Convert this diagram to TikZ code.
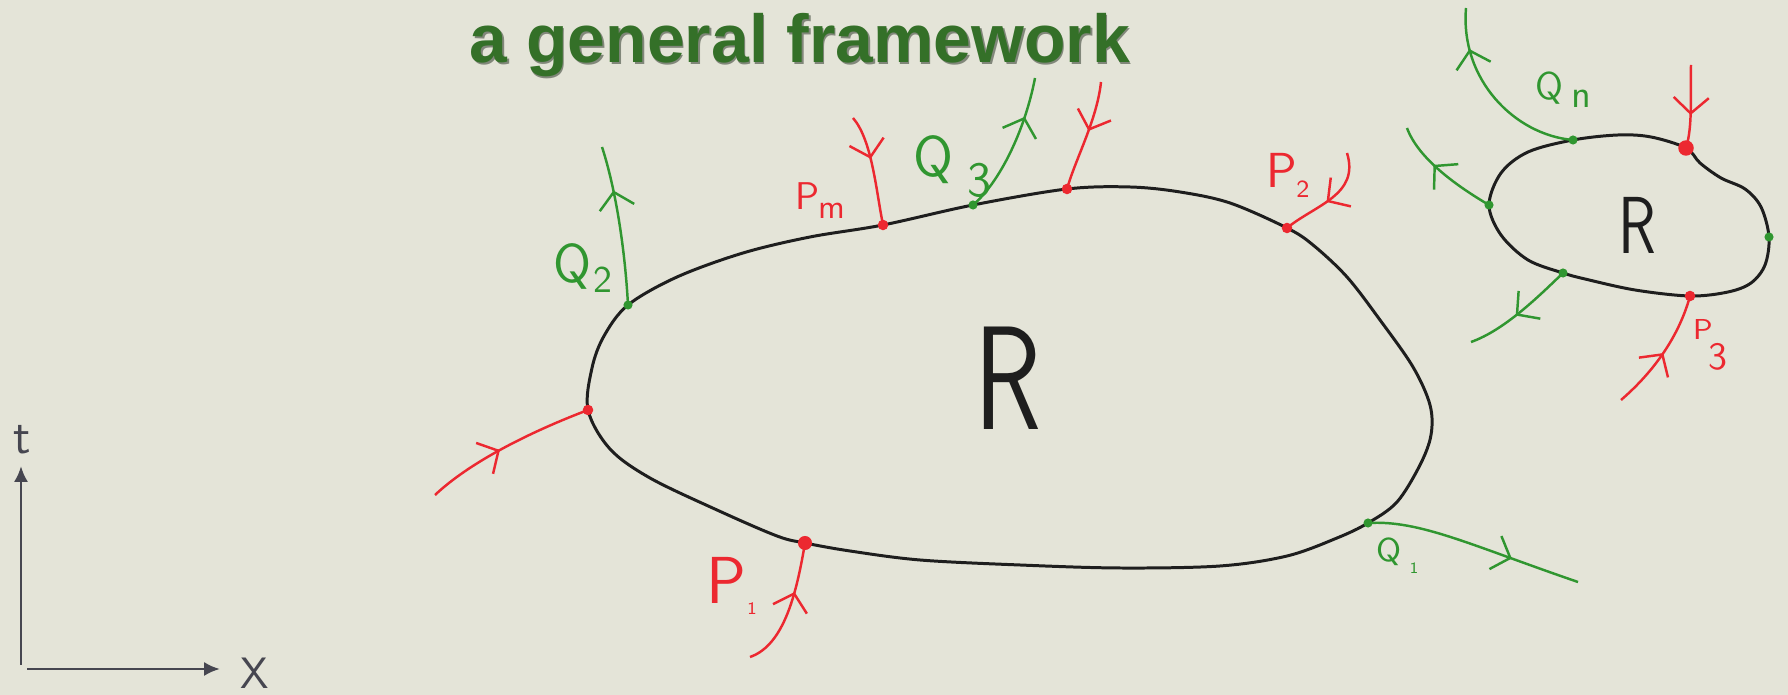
\documentclass[tikz,border=0pt]{standalone}
\usepackage{fontspec}
\newfontfamily\titlefont{Liberation Sans}
\usetikzlibrary{arrows.meta,decorations.markings}
\definecolor{bg}{RGB}{228,228,216}
\definecolor{pen}{RGB}{30,30,30}
\definecolor{rpen}{RGB}{236,40,48}
\definecolor{gpen}{RGB}{48,150,48}
\definecolor{tgreen}{RGB}{52,112,40}
\definecolor{axiscol}{RGB}{70,70,80}
\begin{document}
\begin{tikzpicture}[x=0.01cm,y=-0.01cm,
  blob/.style={draw=pen, line width=0.85pt},
  redline/.style={draw=rpen, line width=0.7pt},
  greenline/.style={draw=gpen, line width=0.7pt},
  midarr/.style={postaction={decorate}, decoration={markings, mark=at position #1 with {\arrow{Straight Barb[length=4.5pt,width=10pt,line width=0.7pt]}}}},
  axisline/.style={draw=axiscol, line width=0.85pt, -{Latex[length=4.5pt,width=4pt]}},
  lbl/.style={inner sep=0pt, font=\sffamily},
  titlestyle/.style={inner sep=0pt, anchor=base, font=\titlefont\bfseries\fontsize{19.3}{23}\selectfont}
]
\fill[bg] (0,0) rectangle (1788,695);
\useasboundingbox (0,0) rectangle (1788,695);

% title
\node[titlestyle, text=black!80!tgreen, opacity=0.45] (titleshadow) at (801.5,64.5) {a general framework};
\node[titlestyle, text=tgreen] (title) at (800,63) {a general framework};

% axes
\coordinate (O1) at (21,665);
\coordinate (Ty) at (21,466);
\coordinate (O2) at (27,669);
\coordinate (Tx) at (220,669);
\draw[axisline] (O1) -- (Ty);
\draw[axisline] (O2) -- (Tx);
\node[lbl, text=axiscol, font=\sffamily\fontsize{14}{14}\selectfont] (tlab) at (22,440) {t};
\node[lbl, text=axiscol, font=\sffamily\fontsize{12.5}{13}\selectfont] (xlab) at (255,673) {X};

% contact points on big region
\coordinate (dL) at (588,410);
\coordinate (dQ2) at (628,305);
\coordinate (dPm) at (883,225);
\coordinate (dQ3) at (973,205);
\coordinate (dRt) at (1067,189);
\coordinate (dP2) at (1287,228);
\coordinate (dQ1) at (1368,523);
\coordinate (dP1) at (805,543);

% big region
\draw[blob] plot[smooth cycle, tension=0.55] coordinates {
 (592,368) (604,336) (dQ2) (677,277) (743,253) (810,237) (dPm) (dQ3) (dRt)
 (1130,187) (1180,192) (1230,203) (dP2) (1313,245) (1347,277) (1380,320)
 (1413,367) (1430,405) (1431,435) (1420,465) (1397,502) (dQ1) (1337,538)
 (1287,556) (1220,566) (1120,568) (1020,565) (920,560) (850,551) (dP1)
 (777,536) (717,510) (650,478) (610,449) (dL)};

% contact points on small region
\coordinate (sG1) at (1489,205);
\coordinate (sQn) at (1573,140);
\coordinate (sRt) at (1686,148);
\coordinate (sG3) at (1769,237);
\coordinate (sP3) at (1690,296);
\coordinate (sG2) at (1563,273);

\draw[blob] plot[smooth cycle, tension=0.55] coordinates {
 (sG1) (1501,173) (1528,152) (sQn) (1618,135) (1651,137) (sRt) (1700,163)
 (1721,178) (1745,189) (1761,207) (sG3) (1765,265) (1751,283) (1728,292)
 (sP3) (1635,290) (1585,279) (sG2) (1528,260) (1501,235)};

% free ends
\coordinate (eL) at (435,495);
\coordinate (eP1) at (750,657);
\coordinate (eQ2) at (602,147);
\coordinate (ePm) at (853,118);
\coordinate (eQ3) at (1035,78);
\coordinate (eRt) at (1101,82);
\coordinate (eP2) at (1347,153);
\coordinate (eQ1) at (1578,582);
\coordinate (eQn) at (1466,8);
\coordinate (eG1) at (1407,128);
\coordinate (eG2) at (1471,342);
\coordinate (eRs) at (1691,65);
\coordinate (eP3) at (1621,400);

% incoming (red)
\draw[redline, midarr=0.45] (eL) .. controls (470,462) and (530,432) .. (dL);
\draw[redline, midarr=0.62] (eP1) .. controls (785,645) and (797,590) .. (dP1);
\draw[redline, midarr=0.4] (ePm) .. controls (872,140) and (876,190) .. (dPm);
\draw[redline, midarr=0.45] (eRt) .. controls (1097,120) and (1075,160) .. (dRt);
\draw[redline, midarr=0.55] (eP2) .. controls (1360,195) and (1315,205) .. (dP2);
\draw[redline, midarr=0.6] (eRs) .. controls (1690,95) and (1693,125) .. (sRt);
\draw[redline, midarr=0.5] (eP3) .. controls (1650,375) and (1678,340) .. (sP3);

% outgoing (green)
\draw[greenline, midarr=0.72] (dQ2) .. controls (625,250) and (616,190) .. (eQ2);
\draw[greenline, midarr=0.72] (dQ3) .. controls (1000,182) and (1025,130) .. (eQ3);
\draw[greenline, midarr=0.68] (dQ1) .. controls (1420,520) and (1470,545) .. (eQ1);
\draw[greenline, midarr=0.78] (sQn) .. controls (1515,135) and (1460,80) .. (eQn);
\draw[greenline, midarr=0.6] (sG1) .. controls (1455,185) and (1418,158) .. (eG1);
\draw[greenline, midarr=0.55] (sG2) .. controls (1540,295) and (1505,330) .. (eG2);

% dots
\foreach \p in {dL,dPm,dRt,dP2,sP3} \fill[rpen] (\p) circle (1.5pt);
\fill[rpen] (dP1) circle (2pt);
\fill[rpen] (sRt) circle (2.2pt);
\foreach \p in {dQ2,dQ3,dQ1,sQn,sG1,sG2,sG3} \fill[gpen] (\p) circle (1.3pt);

% region labels
\node[lbl, text=pen, font=\sffamily\fontsize{42}{42}\selectfont, xscale=0.75] (Rbig) at (1008,378) {R};
\node[lbl, text=pen, font=\sffamily\fontsize{23}{23}\selectfont, xscale=0.77] (Rsmall) at (1637,225) {R};

% point labels
\node[lbl, text=gpen, font=\sffamily\fontsize{15.6}{16}\selectfont] (lQ2) at (572,266) {Q};
\node[lbl, text=gpen, font=\sffamily\fontsize{10.7}{11}\selectfont] (lQ2s) at (603,280) {2};
\node[lbl, text=rpen, font=\sffamily\fontsize{11}{11}\selectfont] (lPm) at (808,196) {P};
\node[lbl, text=rpen, font=\sffamily\fontsize{9.6}{10}\selectfont] (lPms) at (832,211) {m};
\node[lbl, text=gpen, font=\sffamily\fontsize{16.4}{17}\selectfont] (lQ3) at (933,160) {Q};
\node[lbl, text=gpen, font=\sffamily\fontsize{14}{14}\selectfont] (lQ3s) at (980,180) {3};
\node[lbl, text=rpen, font=\sffamily\fontsize{14}{14}\selectfont] (lP2) at (1282,170) {P};
\node[lbl, text=rpen, font=\sffamily\fontsize{7}{7}\selectfont] (lP2s) at (1303,189) {2};
\node[lbl, text=rpen, font=\sffamily\fontsize{18.9}{19}\selectfont] (lP1) at (726,580) {P};
\node[lbl, text=rpen, font=\sffamily\fontsize{5}{5}\selectfont] (lP1s) at (752,609) {1};
\node[lbl, text=gpen, font=\sffamily\fontsize{9.4}{10}\selectfont] (lQ1) at (1389,552) {Q};
\node[lbl, text=gpen, font=\sffamily\fontsize{4.5}{5}\selectfont] (lQ1s) at (1414,568) {1};
\node[lbl, text=gpen, font=\sffamily\fontsize{11}{11}\selectfont] (lQn) at (1549,88) {Q};
\node[lbl, text=gpen, font=\sffamily\fontsize{10.9}{11}\selectfont] (lQns) at (1581,99) {n};
\node[lbl, text=rpen, font=\sffamily\fontsize{8.2}{9}\selectfont] (lP3) at (1703,330) {P};
\node[lbl, text=rpen, font=\sffamily\fontsize{11}{11}\selectfont] (lP3s) at (1718,357) {3};
\end{tikzpicture}
\end{document}
